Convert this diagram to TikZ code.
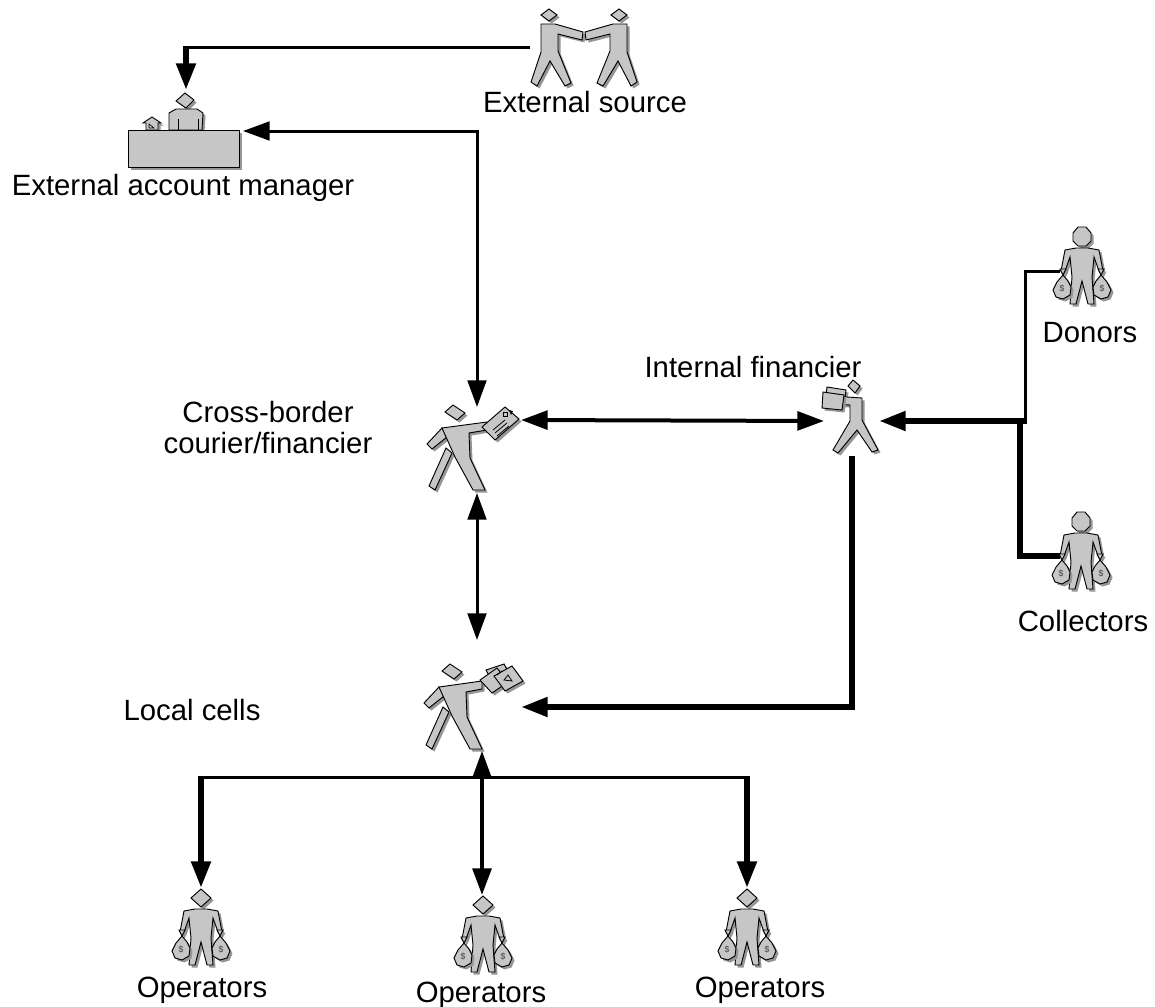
\documentclass[tikz,border=0pt]{standalone}
\usepackage{fontspec}
\setmainfont{Liberation Sans}
\usetikzlibrary{arrows.meta}
\definecolor{figgray}{RGB}{198,198,198}
\definecolor{shadgray}{RGB}{150,150,150}
\newcommand\fshape[1]{\fill[shadgray,shift={(2.5,2.5)}] #1; \filldraw[fig] #1;}
\newcommand\moneybody{%
    \fshape{(-6,11) -- (6,11) -- (17,13) -- (21,34) -- (17,34) -- (12,20) -- (10,40) -- (12,67) -- (6,67) -- (0,44) -- (-6,67) -- (-12,67) -- (-10,40) -- (-12,20) -- (-17,34) -- (-21,34) -- (-17,13) -- cycle}
    \foreach \s in {-1,1}{
      \fshape{({\s*16},32) -- ({\s*22},32) -- ({\s*19},38) -- cycle}
      \fshape{({\s*19},38) -- ({\s*25},45) -- ({\s*29},53) -- ({\s*26},60) -- ({\s*19},62) -- ({\s*12},58) -- ({\s*11},50) -- ({\s*14},44) -- cycle}
      \node[dollar] (bag\s) at ({\s*20},52) {\$};
    }}
\tikzset{
  fig/.style={fill=figgray,draw=black,line width=0.7pt,line join=miter},
  lab/.style={font=\fontsize{22}{23.3}\selectfont,inner sep=0pt,anchor=base},
  dollar/.style={font=\fontsize{6.5}{6.5}\selectfont,text=black!75,inner sep=0pt},
  cthin/.style={line width=2.25pt},
  cmid/.style={line width=3pt},
  cfat/.style={line width=4.5pt},
  >={Triangle[length=20pt,width=14pt]},
  moneyman/.pic={
    \fshape{(0,-9) -- (10,0) -- (0,9) -- (-10,0) -- cycle}
    \moneybody
  },
  donorman/.pic={
    \fshape{(-4,-10) -- (4,-10) -- (9,-4) -- (9,4) -- (4,9) -- (-4,9) -- (-9,4) -- (-9,-4) -- cycle}
    \moneybody
  },
  courier/.pic={
    \fshape{(-3,40) -- (-20,77) -- (-26,73) -- (-9,35) -- cycle}
    \fshape{(-13,15) -- (-28,31) -- (-23,36) -- (-8,24) -- cycle}
    \fshape{(-13,15) -- (32,9) -- (32,17) -- (14,20) -- (15,45) -- (30,77) -- (18,77) -- (0,44) -- cycle}
    \fshape{(-10,-1) -- (-2,-8) -- (10,0) -- (2,7) -- cycle}
    \fshape{(27,14) -- (50,-6) -- (64,6) -- (40,27) -- cycle}
    \draw[line width=0.6pt] (38,17) -- (50,7) (40,20) -- (52,10) (42,23) -- (54,13);
    \draw[line width=0.6pt] (48,-1) rectangle (52,3);
    \fill (54,-3) -- (58,-2) -- (56,2) -- cycle;
  },
  localcell/.pic={
    \fshape{(-3,40) -- (-20,77) -- (-26,73) -- (-9,35) -- cycle}
    \fshape{(-13,15) -- (-28,31) -- (-23,36) -- (-8,24) -- cycle}
    \fshape{(-13,15) -- (30,9) -- (30,17) -- (14,20) -- (15,45) -- (30,77) -- (18,77) -- (0,44) -- cycle}
    \fshape{(-10,-1) -- (-2,-8) -- (10,0) -- (2,7) -- cycle}
    \fshape{(34,-2) -- (52,-8) -- (58,3) -- (40,9) -- cycle}
    \fshape{(28,8) -- (45,-4) -- (56,10) -- (40,21) -- cycle}
    \fshape{(42,4) -- (60,-6) -- (71,9) -- (53,19) -- cycle}
    \draw[line width=0.6pt] (52,8) -- (56,3) -- (60,9) -- cycle;
    \draw[line width=0.6pt] (45,3) -- (50,-1);
  },
  financier/.pic={
    \fshape{(-27,0) -- (-8,3) -- (-10,18) -- (-29,16) -- cycle}
    \fshape{(-22,9) -- (8,11) -- (8,33) -- (24,63) -- (18,65) -- (3,43) -- (-16,66) -- (-21,63) -- (-4,34) -- (-4,18) -- (-22,17) -- cycle}
    \fshape{(-31,5) -- (-10,8) -- (-12,23) -- (-32,21) -- cycle}
    \fshape{(-6,-1) -- (-1,-7) -- (6,-1) -- (1,6) -- cycle}
  },
  deskman/.pic={
    \fshape{(-9,0) -- (0,-8) -- (9,-1) -- (1,7) -- cycle}
    \fshape{(-16,12) -- (-9,8) -- (12,8) -- (18,12) -- (17,29) -- (-16,29) -- cycle}
    \draw[line width=0.7pt] (-7,18) -- (-7,29) (13,18) -- (13,29);
    \fshape{(-42,22) -- (-33,16) -- (-24,22) -- (-27,22) -- (-27,29) -- (-39,29) -- (-39,22) -- cycle}
    \draw[line width=0.5pt] (-36,23) -- (-36,27) -- (-31,27) -- cycle;
    \fill[shadgray] (-54,32) rectangle (57,69);
    \filldraw[fig] (-57,29) rectangle (54,66);
  },
  handshake/.pic={
    \fshape{(-43,9) -- (-29,9) -- (-1,17) -- (-2,25) -- (-26,19) -- (-26,36) -- (-13,68) -- (-19,71) -- (-34,46) -- (-47,71) -- (-53,67) -- (-43,37) -- cycle}
    \fshape{(43,9) -- (29,9) -- (1,17) -- (2,25) -- (26,19) -- (26,36) -- (13,68) -- (19,71) -- (34,46) -- (47,71) -- (53,67) -- (43,37) -- cycle}
    \fshape{(-43,0) -- (-35,-6) -- (-27,0) -- (-35,6) -- cycle}
    \fshape{(27,0) -- (35,-6) -- (43,0) -- (35,6) -- cycle}
  }
}
\begin{document}
\begin{tikzpicture}[x=0.75pt,y=-0.75pt]
\fill[white] (0,0) rectangle (1155,1006);
\useasboundingbox (0,0) rectangle (1155,1006);

% figures
\pic (es) at (584,15) {handshake};
\pic (am) at (185,101) {deskman};
\pic (cb) at (455,413) {courier};
\pic (if) at (854,387) {financier};
\pic (dn) at (1082,237) {donorman};
\pic (cl) at (1081,522) {donorman};
\pic (lc) at (452,672) {localcell};
\pic (op1) at (201,898) {moneyman};
\pic (op2) at (483,905) {moneyman};
\pic (op3) at (747,898) {moneyman};

% labels
\node[lab] (l-es) at (585,113) {External source};
\node[lab] (l-am) at (183,195) {External account manager};
\node[lab] (l-if) at (753,377) {Internal financier};
\node[lab,anchor=north,align=center] (l-cb) at (268,401) {Cross-border\\courier/financier};
\node[lab] (l-dn) at (1090,342) {Donors};
\node[lab] (l-cl) at (1083,631) {Collectors};
\node[lab] (l-lc) at (192,720) {Local cells};
\node[lab] (l-op1) at (202,997) {Operators};
\node[lab] (l-op2) at (481,1002) {Operators};
\node[lab] (l-op3) at (760,997) {Operators};

% connector end points
\coordinate (es-w) at (530,48);
\coordinate (k-es) at (186,48);
\coordinate (am-n) at (186,90);
\coordinate (am-e) at (243,131);
\coordinate (cb-n) at (477,407);
\coordinate (cb-e) at (521,420);
\coordinate (cb-s) at (477,493);
\coordinate (if-w) at (824,421);
\coordinate (if-e) at (879,421);
\coordinate (if-s) at (852,456);
\coordinate (jn) at (1027,421);
\coordinate (jn-up) at (1025,421);
\coordinate (jn-dn) at (1020,421);
\coordinate (dn-w) at (1060,271);
\coordinate (cl-w) at (1060,556);
\coordinate (lc-n) at (477,640);
\coordinate (lc-e) at (521,707);
\coordinate (lc-s) at (482,751);
\coordinate (bus-l) at (201,777);
\coordinate (bus-m) at (482,777);
\coordinate (bus-r) at (747,777);
\coordinate (op1-n) at (201,888);
\coordinate (op2-n) at (482,895);
\coordinate (op3-n) at (747,888);

% connectors
\draw[cthin] (es-w) -- ([xshift=-2.25pt]k-es);
\draw[cfat,->] ([yshift=1.1pt]k-es) -- (am-n);
\draw[cthin,<->] (am-e) -| (cb-n);
\draw[cmid,<->] (cb-e) -- (if-w);
\draw[cfat,->] (jn) -- (if-e);
\draw[cthin] (jn-up) |- (dn-w);
\draw[cfat] (jn-dn) |- (cl-w);
\draw[cthin,<->] (cb-s) -- (lc-n);
\draw[cfat,->] (if-s) |- (lc-e);
\draw[cthin] ([xshift=-2.25pt]bus-l) -- ([xshift=2.25pt]bus-r);
\draw[cfat,->] ([yshift=1.1pt]bus-l) -- (op1-n);
\draw[cfat,->] ([yshift=1.1pt]bus-r) -- (op3-n);
\draw[cmid,->] (bus-m) -- (op2-n);
\draw[cthin,->] (bus-m) -- (lc-s);
\end{tikzpicture}
\end{document}
